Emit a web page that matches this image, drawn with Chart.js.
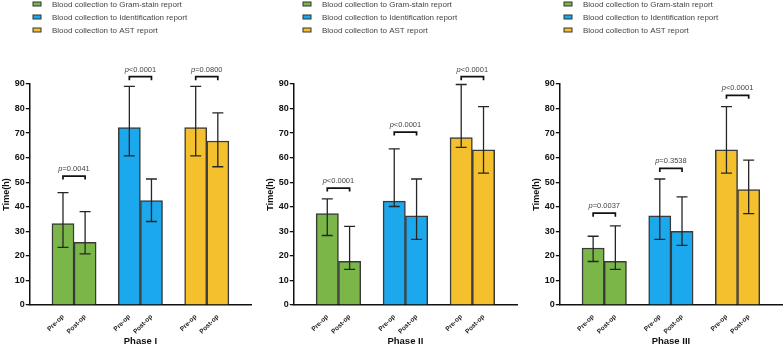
<!DOCTYPE html>
<html>
<head>
<meta charset="utf-8">
<script src="https://cdn.jsdelivr.net/npm/chart.js@4.4.0/dist/chart.umd.min.js"></script>
<style>
  body { margin: 0; background: #fff; width: 783px; height: 346px; position: relative; overflow: hidden; }
  .panel { position: absolute; top: 0; height: 346px; }
</style>
</head>
<body>
<div class="panel" style="left:1px;width:252px"><canvas id="phase1"></canvas></div>
<div class="panel" style="left:265px;width:254px"><canvas id="phase2"></canvas></div>
<div class="panel" style="left:531px;width:253px"><canvas id="phase3"></canvas></div>
<script>
// Categories / labels
const slotLabels = ['', 'Pre-op', 'Post-op', '', 'Pre-op', 'Post-op', '', 'Pre-op', 'Post-op', ''];
const seriesNames = [
    'Blood collection to Gram-stain report',
    'Blood collection to Identification report',
    'Blood collection to AST report'
];
const seriesColors = ['#7ab648', '#1ba8ec', '#f5c02e'];
const groupSlots = [[1, 2], [4, 5], [7, 8]];
const yTicks = [0, 10, 20, 30, 40, 50, 60, 70, 80, 90];

// Phase I: [Pre-op, Post-op] per series
const phase1Gram = [33.2, 25.5];
const phase1Ident = [72.3, 42.5];
const phase1Ast = [72.3, 66.8];
const phase1Low = [23.5, 20.8, 60.7, 34.0, 60.7, 56.3];
const phase1High = [45.8, 38.0, 89.0, 51.3, 89.0, 78.2];
const phase1P = ['=0.0041', '<0.0001', '=0.0800'];
const phase1Bracket = [52.5, 93, 93];

// Phase II
const phase2Gram = [37.2, 17.8];
const phase2Ident = [42.3, 36.3];
const phase2Ast = [68.2, 63.2];
const phase2Low = [28.3, 14.5, 40.1, 26.7, 64.2, 53.7];
const phase2High = [43.2, 32.0, 63.6, 51.3, 89.8, 80.8];
const phase2P = ['<0.0001', '<0.0001', '<0.0001'];
const phase2Bracket = [47.6, 70.4, 93];

// Phase III
const phase3Gram = [23.2, 17.8];
const phase3Ident = [36.3, 30.0];
const phase3Ast = [63.2, 47.0];
const phase3Low = [17.7, 14.5, 26.7, 24.3, 53.7, 37.2];
const phase3High = [28.0, 32.2, 51.3, 44.0, 80.8, 59.0];
const phase3P = ['=0.0037', '=0.3538', '<0.0001'];
const phase3Bracket = [37.4, 55.6, 85.4];

const font = 'Arial, "Liberation Sans", sans-serif';

// Put a pair of values into its two slots, null elsewhere
function slotData(values, g) {
    const data = slotLabels.map(() => null);
    data[groupSlots[g][0]] = values[0];
    data[groupSlots[g][1]] = values[1];
    return data;
}

// Error bars, p-value brackets and the stacked legend
const extrasPlugin = {
    id: 'extras',
    afterDatasetsDraw(chart, args, opts) {
        const ctx = chart.ctx;
        const x = chart.scales.x, y = chart.scales.y;
        ctx.save();
        // error bars
        ctx.strokeStyle = '#262626';
        ctx.lineWidth = 1.3;
        groupSlots.forEach((slots, g) => {
            slots.forEach((s, k) => {
                const i = g * 2 + k;
                const cx = x.getPixelForValue(s);
                const yl = y.getPixelForValue(opts.low[i]);
                const yh = y.getPixelForValue(opts.high[i]);
                ctx.beginPath();
                ctx.moveTo(cx, yl); ctx.lineTo(cx, yh);
                ctx.moveTo(cx - 5.5, yl); ctx.lineTo(cx + 5.5, yl);
                ctx.moveTo(cx - 5.5, yh); ctx.lineTo(cx + 5.5, yh);
                ctx.stroke();
            });
        });
        // brackets with p values
        groupSlots.forEach((slots, g) => {
            const x1 = x.getPixelForValue(slots[0]);
            const x2 = x.getPixelForValue(slots[1]);
            const by = y.getPixelForValue(opts.bracket[g]);
            ctx.strokeStyle = '#111';
            ctx.lineWidth = 1.7;
            ctx.beginPath();
            ctx.moveTo(x1, by + 3.5); ctx.lineTo(x1, by); ctx.lineTo(x2, by); ctx.lineTo(x2, by + 3.5);
            ctx.stroke();
            const rest = opts.p[g];
            ctx.font = 'italic 7.5px ' + font;
            const wp = ctx.measureText('p').width;
            ctx.font = '7.5px ' + font;
            const wr = ctx.measureText(rest).width;
            const sx = (x1 + x2) / 2 - (wp + wr) / 2;
            ctx.fillStyle = '#444';
            ctx.textBaseline = 'alphabetic';
            ctx.textAlign = 'left';
            ctx.font = 'italic 7.5px ' + font;
            ctx.fillText('p', sx, by - 5);
            ctx.font = '7.5px ' + font;
            ctx.fillText(rest, sx + wp, by - 5);
        });
        // legend
        chart.data.datasets.forEach((ds, i) => {
            const ly = 4 + i * 13;
            ctx.fillStyle = ds.backgroundColor;
            ctx.fillRect(opts.legendX, ly - 2, 8, 4);
            ctx.strokeStyle = '#333';
            ctx.lineWidth = 1;
            ctx.strokeRect(opts.legendX, ly - 2, 8, 4);
            ctx.fillStyle = '#444';
            ctx.font = '8px ' + font;
            ctx.textBaseline = 'middle';
            ctx.fillText(ds.label, opts.legendX + 19, ly + 0.5);
        });
        ctx.restore();
    }
};

function makePhase(id, title, gram, ident, ast, low, high, p, bracket, legendX) {
    const values = [gram, ident, ast];
    new Chart(document.getElementById(id), {
        type: 'bar',
        data: {
            labels: slotLabels,
            datasets: values.map((v, g) => ({
                label: seriesNames[g],
                data: slotData(v, g),
                backgroundColor: seriesColors[g],
                borderColor: '#3a3a3a',
                borderWidth: 1.5,
                barPercentage: 1,
                categoryPercentage: 1,
                grouped: false
            }))
        },
        options: {
            responsive: true,
            maintainAspectRatio: false,
            animation: false,
            layout: { padding: { top: 84, bottom: -1, left: 0, right: 2 } },
            plugins: {
                legend: { display: false },
                tooltip: { enabled: false },
                extras: { low, high, p, bracket, legendX }
            },
            scales: {
                x: {
                    grid: { display: false },
                    border: { color: '#111', width: 1.5 },
                    ticks: {
                        autoSkip: false,
                        minRotation: 45,
                        maxRotation: 45,
                        padding: 0,
                        color: '#222',
                        font: { family: font, weight: 'bold', size: 6.5 }
                    },
                    title: {
                        display: true,
                        text: title,
                        color: '#111',
                        padding: { top: 0, bottom: 0 },
                        font: { family: font, weight: 'bold', size: 9.5 }
                    }
                },
                y: {
                    min: 0,
                    max: 90,
                    afterBuildTicks: axis => { axis.ticks = yTicks.map(v => ({ value: v })); },
                    grid: { drawOnChartArea: false, drawTicks: true, tickLength: 4, color: '#111', lineWidth: 1.3 },
                    border: { color: '#111', width: 1.5 },
                    ticks: {
                        padding: 1,
                        color: '#111',
                        font: { family: font, weight: 'bold', size: 9 }
                    },
                    title: {
                        display: true,
                        text: 'Time(h)',
                        color: '#111',
                        padding: { top: 0, bottom: 2 },
                        font: { family: font, weight: 'bold', size: 9 }
                    }
                }
            }
        },
        plugins: [extrasPlugin]
    });
}

makePhase('phase1', 'Phase I', phase1Gram, phase1Ident, phase1Ast, phase1Low, phase1High, phase1P, phase1Bracket, 32);
makePhase('phase2', 'Phase II', phase2Gram, phase2Ident, phase2Ast, phase2Low, phase2High, phase2P, phase2Bracket, 38);
makePhase('phase3', 'Phase III', phase3Gram, phase3Ident, phase3Ast, phase3Low, phase3High, phase3P, phase3Bracket, 33);
</script>
</body>
</html>
